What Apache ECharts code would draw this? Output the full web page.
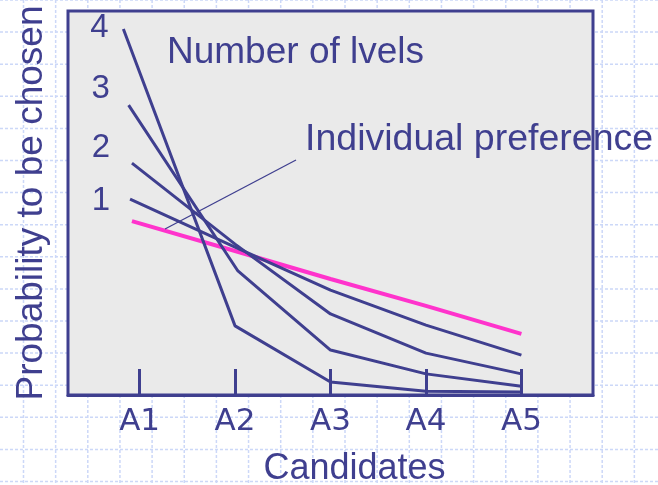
<!DOCTYPE html>
<html>
<head>
<meta charset="utf-8">
<script src="https://cdn.jsdelivr.net/npm/echarts@6/dist/echarts.min.js"></script>
<style>
  html, body { margin: 0; padding: 0; background: #ffffff; }
  #chart { width: 658px; height: 485px; }
</style>
</head>
<body>
<div id="chart"></div>
<script>
// Candidates along the horizontal axis
const candidates = ['A1', 'A2', 'A3', 'A4', 'A5'];
const candidateTicks = [1, 2, 3, 4, 5];

// Probability (%) of each candidate being chosen, per number of levels
const levelNames = ['1', '2', '3', '4'];
const level1X = [0.90, 2, 3, 4, 5];
const level1Y = [51.0, 38.5, 27.3, 18.2, 10.4];
const level2X = [0.92, 2, 3, 4, 5];
const level2Y = [60.4, 39.3, 21.1, 10.9, 5.5];
const level3X = [0.885, 2.03, 3, 4, 5];
const level3Y = [75.5, 32.3, 11.7, 5.5, 2.3];
const level4X = [0.83, 2, 3, 4, 5];
const level4Y = [95.3, 18.0, 3.4, 1.0, 0.8];

// Individual preference curve
const prefX = [0.92, 2, 3, 4, 5];
const prefY = [45.3, 37.5, 30.2, 23.2, 15.9];

const NAVY = '#3f3f8f';
const PINK = '#ff33cc';
const FONT = '"Liberation Sans", Arial, sans-serif';

const pairs = (xs, ys) => xs.map((x, i) => [x, ys[i]]);

// Number label placed next to the first point of each level curve
const labelOffsets = { '1': [-29, 2], '2': [-31, -15], '3': [-28, -16], '4': [-24, -1] };
function levelData(xs, ys, name) {
  return pairs(xs, ys).map((p, i) => i === 0 ? {
    value: p,
    label: {
      show: true, formatter: name, position: 'inside', offset: labelOffsets[name],
      color: NAVY, fontSize: 33, fontFamily: FONT
    }
  } : p);
}

// Dotted page grid drawn behind the plot
const paper = [];
for (let k = -1; k <= 20; k++) {
  const x = 23.5 + 32.15 * k;
  paper.push({ type: 'line', z: -10, silent: true,
    shape: { x1: x, y1: 0, x2: x, y2: 485 },
    style: { stroke: '#ccd8f8', lineWidth: 1.5, lineDash: [3, 2] } });
}
for (let k = 0; k <= 15; k++) {
  const y = 32.1 * k;
  paper.push({ type: 'line', z: -10, silent: true,
    shape: { x1: 0, y1: y, x2: 658, y2: y },
    style: { stroke: '#ccd8f8', lineWidth: 1.5, lineDash: [3, 2] } });
}

const chart = echarts.init(document.getElementById('chart'), null, { renderer: 'canvas' });

const levelSeries = [
  [level1X, level1Y], [level2X, level2Y], [level3X, level3Y], [level4X, level4Y]
].map(([xs, ys], i) => ({
  name: levelNames[i],
  type: 'line',
  data: levelData(xs, ys, levelNames[i]),
  symbol: 'circle',
  symbolSize: 1,
  showSymbol: true,
  itemStyle: { color: 'rgba(0,0,0,0)' },
  lineStyle: { color: NAVY, width: 3 },
  z: 3
}));

chart.setOption({
  animation: false,
  grid: {
    left: 68, top: 11, width: 525, height: 384,
    outerBoundsMode: 'none', containLabel: false,
    show: true, backgroundColor: '#eaeaea', borderColor: NAVY, borderWidth: 3
  },
  xAxis: {
    type: 'value', min: 0.25, max: 5.75,
    name: 'Candidates', nameLocation: 'middle', nameGap: 56,
    nameTextStyle: { color: NAVY, fontSize: 36, fontFamily: FONT, padding: [0, 0, 0, 48] },
    axisLine: { show: true, lineStyle: { color: NAVY, width: 3 } },
    axisTick: { show: true, inside: true, length: 26, customValues: candidateTicks,
      lineStyle: { color: NAVY, width: 3 } },
    axisLabel: { show: true, customValues: candidateTicks, margin: 11,
      formatter: v => candidates[Math.round(v) - 1],
      color: NAVY, fontSize: 31, fontFamily: '"DejaVu Sans", sans-serif' },
    splitLine: { show: false }
  },
  yAxis: {
    type: 'value', min: 0, max: 100,
    name: 'Probability to be chosen', nameLocation: 'middle', nameGap: 18,
    nameTextStyle: { color: NAVY, fontSize: 37, fontFamily: FONT },
    axisLine: { show: false }, axisTick: { show: false }, axisLabel: { show: false },
    splitLine: { show: false }
  },
  graphic: paper.concat([
    { type: 'text', z: 100, left: 167, top: 34,
      style: { text: 'Number of lvels', fill: NAVY, font: '37px ' + FONT } },
    { type: 'text', z: 100, left: 305, top: 121,
      style: { text: 'Individual preference', fill: NAVY, font: '37.5px ' + FONT } },
    { type: 'line', z: 100,
      shape: { x1: 296, y1: 160, x2: 165, y2: 229 },
      style: { stroke: NAVY, lineWidth: 1.3 } }
  ]),
  series: [{
    name: 'Individual preference',
    type: 'line',
    data: pairs(prefX, prefY),
    symbol: 'none',
    lineStyle: { color: PINK, width: 4 },
    z: 2
  }].concat(levelSeries)
});
</script>
</body>
</html>
